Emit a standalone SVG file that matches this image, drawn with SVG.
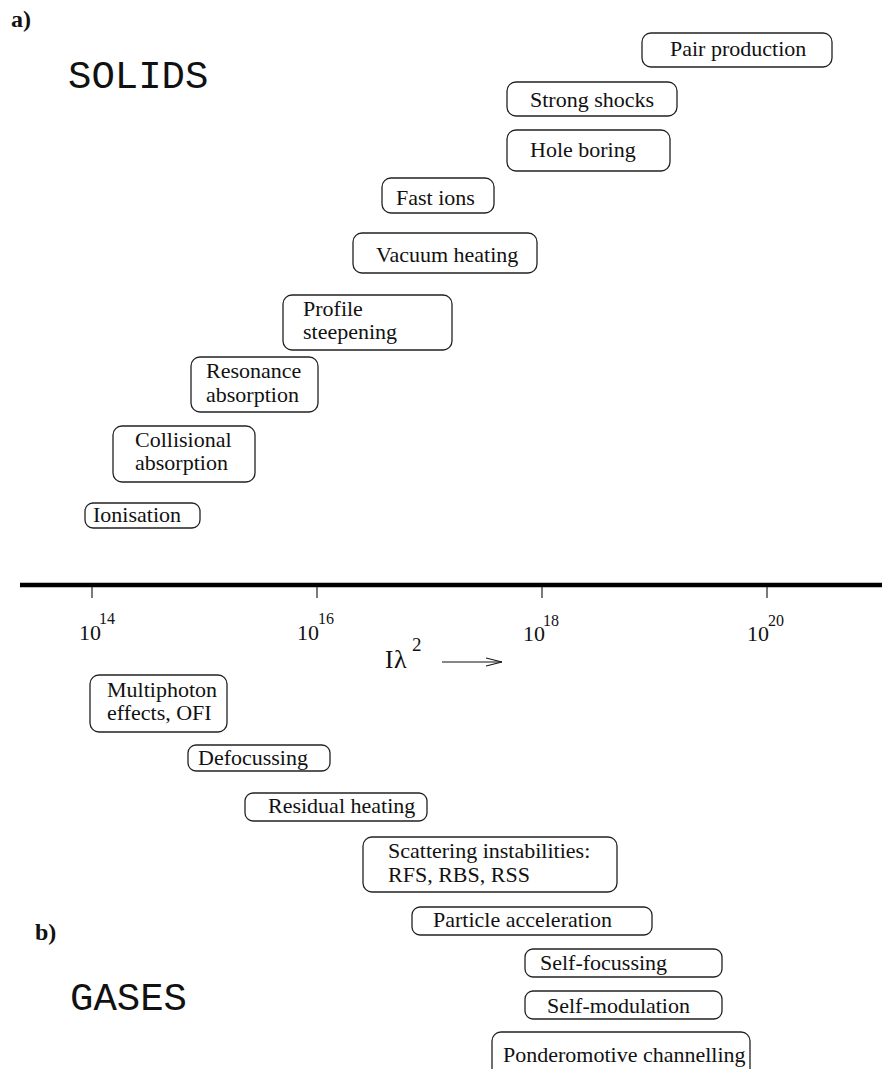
<svg xmlns="http://www.w3.org/2000/svg" width="882" height="1069" viewBox="0 0 882 1069">
<style>
  .box { fill: none; stroke: #222; stroke-width: 1.3; }
  .t { font-family: "Liberation Serif", "Times New Roman", serif; font-size: 22px; fill: #111; }
  .sup { font-family: "Liberation Serif", "Times New Roman", serif; font-size: 16px; fill: #111; }
  .lab { font-family: "Liberation Serif", "Times New Roman", serif; font-size: 24px; font-weight: bold; fill: #111; }
  .mono { font-family: "Liberation Mono", "Courier New", monospace; font-size: 39px; fill: #111; }
  .tick { stroke: #222; stroke-width: 1.2; }
</style>
<defs>
  <marker id="arr" viewBox="0 0 16 10" refX="16" refY="5" markerWidth="16" markerHeight="10" markerUnits="userSpaceOnUse" orient="auto">
    <path d="M0,1 L16,5 L0,9" fill="none" stroke="#111" stroke-width="1.1"/>
  </marker>
</defs>
<rect width="882" height="1069" fill="#fff"/>

<g id="labels">
  <text class="lab" x="11" y="27">a)</text>
  <text class="mono" x="68" y="88">SOLIDS</text>
  <text class="lab" x="35" y="940">b)</text>
  <text class="mono" x="70" y="1010">GASES</text>
</g>

<g id="axis">
  <line x1="20" y1="585" x2="882" y2="585" stroke="#000" stroke-width="4.5"/>
  <line class="tick" x1="92" y1="587" x2="92" y2="598"/>
  <line class="tick" x1="317" y1="587" x2="317" y2="598"/>
  <line class="tick" x1="542" y1="587" x2="542" y2="598"/>
  <line class="tick" x1="767" y1="587" x2="767" y2="598"/>
  <text class="t" x="79" y="640">10</text><text class="sup" x="99" y="624">14</text>
  <text class="t" x="297" y="640">10</text><text class="sup" x="318" y="624">16</text>
  <text class="t" x="523" y="641">10</text><text class="sup" x="543" y="626">18</text>
  <text class="t" x="747" y="641">10</text><text class="sup" x="768" y="626">20</text>
  <text class="t" x="385" y="668" style="font-size:25px">I</text>
  <text class="t" x="394" y="668" style="font-size:26px">λ</text>
  <text class="sup" x="412" y="651" style="font-size:19px">2</text>
</g>

<g id="connectors">
  <line x1="442" y1="662" x2="502" y2="662" stroke="#111" stroke-width="1.1" marker-end="url(#arr)"/>
</g>

<g id="pair-production"><rect class="box" x="642" y="33" width="190" height="34" rx="9"/><text class="t" x="670" y="56">Pair production</text></g>
<g id="strong-shocks"><rect class="box" x="507" y="82" width="170" height="34" rx="9"/><text class="t" x="530" y="107">Strong shocks</text></g>
<g id="hole-boring"><rect class="box" x="507" y="130" width="163" height="41" rx="9"/><text class="t" x="530" y="157">Hole boring</text></g>
<g id="fast-ions"><rect class="box" x="382" y="178" width="112" height="35" rx="9"/><text class="t" x="396" y="205">Fast ions</text></g>
<g id="vacuum-heating"><rect class="box" x="353" y="233" width="184" height="40" rx="9"/><text class="t" x="376" y="262">Vacuum heating</text></g>
<g id="profile-steepening"><rect class="box" x="283" y="295" width="169" height="55" rx="9"/><text class="t" x="303" y="316">Profile</text><text class="t" x="303" y="339">steepening</text></g>
<g id="resonance-absorption"><rect class="box" x="191" y="357" width="127" height="55" rx="9"/><text class="t" x="206" y="378">Resonance</text><text class="t" x="206" y="402">absorption</text></g>
<g id="collisional-absorption"><rect class="box" x="113" y="426" width="142" height="56" rx="9"/><text class="t" x="135" y="447">Collisional</text><text class="t" x="135" y="470">absorption</text></g>
<g id="ionisation"><rect class="box" x="85" y="503" width="115" height="25" rx="8"/><text class="t" x="93" y="522">Ionisation</text></g>

<g id="multiphoton"><rect class="box" x="90" y="675" width="137" height="57" rx="9"/><text class="t" x="107" y="697">Multiphoton</text><text class="t" x="107" y="720">effects, OFI</text></g>
<g id="defocussing"><rect class="box" x="188" y="745" width="142" height="26" rx="8"/><text class="t" x="198" y="765">Defocussing</text></g>
<g id="residual-heating"><rect class="box" x="245" y="793" width="182" height="28" rx="8"/><text class="t" x="268" y="813">Residual heating</text></g>
<g id="scattering"><rect class="box" x="363" y="837" width="254" height="55" rx="9"/><text class="t" x="388" y="858">Scattering instabilities:</text><text class="t" x="388" y="882">RFS, RBS, RSS</text></g>
<g id="particle-acceleration"><rect class="box" x="412" y="907" width="240" height="28" rx="8"/><text class="t" x="433" y="927">Particle acceleration</text></g>
<g id="self-focussing"><rect class="box" x="525" y="949" width="197" height="28" rx="8"/><text class="t" x="540" y="970">Self-focussing</text></g>
<g id="self-modulation"><rect class="box" x="525" y="991" width="197" height="28" rx="8"/><text class="t" x="547" y="1013">Self-modulation</text></g>
<g id="ponderomotive"><rect class="box" x="492" y="1032" width="258" height="50" rx="9"/><text class="t" x="503" y="1062">Ponderomotive channelling</text></g>
</svg>
